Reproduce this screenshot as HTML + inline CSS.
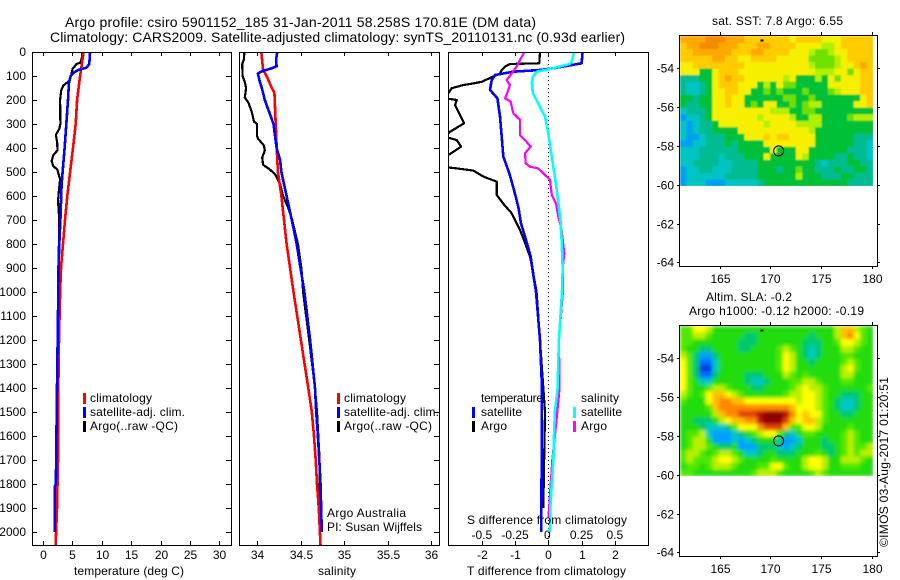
<!DOCTYPE html>
<html lang="en">
<head>
<meta charset="utf-8">
<title>Argo profile csiro 5901152_185</title>
<style>
html,body{margin:0;padding:0;background:#fff;}
svg{display:block;}
text{font-family:"Liberation Sans",sans-serif;font-size:12px;fill:#000;}
text.big{font-size:14px;}
.frame{fill:none;stroke:#000;stroke-width:1;shape-rendering:crispEdges;}
</style>
</head>
<body>
<svg id="chart" xmlns="http://www.w3.org/2000/svg" width="900" height="580" viewBox="0 0 900 580">
<defs>
<clipPath id="clip-p1"><rect x="32" y="52" width="200" height="493"/></clipPath>
<clipPath id="clip-p2"><rect x="239" y="52" width="200" height="493"/></clipPath>
<clipPath id="clip-p3"><rect x="448" y="52" width="200" height="493"/></clipPath>
<clipPath id="clip-m1"><rect x="680" y="36" width="193" height="150"/></clipPath>
<clipPath id="clip-m2"><rect x="680" y="326" width="193" height="150"/></clipPath>
<filter id="blur-sst" x="-5%" y="-5%" width="110%" height="110%"><feGaussianBlur stdDeviation="0.8" edgeMode="duplicate"/></filter>
<filter id="blur-sla" x="-5%" y="-5%" width="110%" height="110%"><feGaussianBlur stdDeviation="1.8" edgeMode="duplicate"/></filter>
</defs>

<text class="big" x="65" y="27" textLength="471" lengthAdjust="spacing">Argo profile: csiro 5901152_185 31-Jan-2011 58.258S 170.81E (DM data)</text>
<text class="big" x="50" y="42" textLength="575" lengthAdjust="spacing">Climatology: CARS2009. Satellite-adjusted climatology: synTS_20110131.nc (0.93d earlier)</text>

<text x="74" y="575" textLength="110" lengthAdjust="spacing">temperature (deg C)</text>
<text x="318" y="575" textLength="38" lengthAdjust="spacing">salinity</text>
<text x="467" y="575" textLength="159" lengthAdjust="spacing">T difference from climatology</text>

<text x="712" y="25" textLength="131" lengthAdjust="spacing">sat. SST: 7.8 Argo: 6.55</text>
<text x="706" y="301" textLength="86" lengthAdjust="spacing">Altim. SLA: -0.2</text>
<text x="689" y="315" textLength="175" lengthAdjust="spacing">Argo h1000: -0.12 h2000: -0.19</text>
<text transform="translate(888,547) rotate(-90)" textLength="170" lengthAdjust="spacing">©IMOS 03-Aug-2017 01:20:51</text>

<g id="p1"></g>
<g id="p2"></g>
<g id="p3"></g>
<g id="m1"></g>
<g id="m2"></g>

<g>
<rect x="83" y="393" width="3" height="11" fill="#f00"/>
<text x="90" y="402" textLength="62" lengthAdjust="spacing">climatology</text>
<rect x="83" y="407" width="3" height="11" fill="#00f"/>
<text x="90" y="416" textLength="95" lengthAdjust="spacing">satellite-adj. clim.</text>
<rect x="83" y="421" width="3" height="11" fill="#000"/>
<text x="90" y="430" textLength="88" lengthAdjust="spacing">Argo(..raw -QC)</text>
</g>
<g>
<rect x="337" y="393" width="3" height="11" fill="#f00"/>
<text x="344" y="402" textLength="62" lengthAdjust="spacing">climatology</text>
<rect x="337" y="407" width="3" height="11" fill="#00f"/>
<text x="344" y="416" textLength="95" lengthAdjust="spacing">satellite-adj. clim.</text>
<rect x="337" y="421" width="3" height="11" fill="#000"/>
<text x="344" y="430" textLength="88" lengthAdjust="spacing">Argo(..raw -QC)</text>
</g>
<text x="327" y="517" textLength="79" lengthAdjust="spacing">Argo Australia</text>
<text x="327" y="531" textLength="95" lengthAdjust="spacing">PI: Susan Wijffels</text>

<g>
<text x="481" y="402" textLength="62" lengthAdjust="spacing">temperature</text>
<rect x="472" y="407" width="3" height="11" fill="#00f"/>
<text x="481" y="416" textLength="41" lengthAdjust="spacing">satellite</text>
<rect x="472" y="421" width="3" height="11" fill="#000"/>
<text x="481" y="430" textLength="26" lengthAdjust="spacing">Argo</text>
<text x="581" y="402" textLength="38" lengthAdjust="spacing">salinity</text>
<rect x="573" y="407" width="3" height="11" fill="#0ff"/>
<text x="581" y="416" textLength="41" lengthAdjust="spacing">satellite</text>
<rect x="573" y="421" width="3" height="11" fill="#f0f"/>
<text x="581" y="430" textLength="26" lengthAdjust="spacing">Argo</text>
</g>
<text x="467" y="524" textLength="160" lengthAdjust="spacing">S difference from climatology</text>
</svg>

<script>
// ---------- axis ticks ----------
const depthTicks = [0,100,200,300,400,500,600,700,800,900,1000,1100,1200,1300,1400,1500,1600,1700,1800,1900,2000];
const tempTicks = [0,5,10,15,20,25,30];
const salTicks = [34,34.5,35,35.5,36];
const salTickLabels = ["34","34.5","35","35.5","36"];
const dtTicks = [-2,-1,0,1,2];
const dsTicks = [-0.5,-0.25,0,0.25,0.5];
const dsTickLabels = ["-0.5","-0.25","0","0.25","0.5"];
const lonTicks = [165,170,175,180];
const latTicks = [-54,-56,-58,-60,-62,-64];

// ---------- temperature panel ----------
const tempClimDepth = [0,100,200,300,400,500,600,700,800,900,1000,1200,1400,1700,1900,2054];
const tempClim = [6.9,6.3,5.8,5.55,5.1,4.6,4.13,3.74,3.4,3.06,2.9,2.72,2.6,2.55,2.38,2.15];
const tempSatDepth = [0,50,65,75,85,100,130,200,300,400,500,550,600,700,800,850,1000,1400,1500,1800,1810,2000];
const tempSat = [8,7.87,7.4,6,5.27,4.7,4.4,4.25,3.96,3.68,3.34,3.17,3.1,2.95,2.77,2.7,2.6,2.38,2.33,2.2,2,2];
const tempArgoDepth = [0,30,45,50,70,100,120,140,160,200,300,320,345,380,410,430,455,475,490,530,560,620,700,800,900,1000,1400,1970];
const tempArgo = [6.7,6.57,6.3,5.7,5.05,4.76,4.47,3.45,3.1,2.9,2.95,2.77,2.2,2.43,2.45,1.75,1.47,1.75,2.43,2.9,2.77,2.55,2.77,2.7,2.6,2.55,2.43,2.25];

// ---------- salinity panel ----------
const salClimDepth = [0,75,100,150,170,300,400,500,600,700,800,900,1000,1200,1400,1500,1600,1700,1800,1900,2054];
const salClim = [34.05,34.07,34.11,34.17,34.2,34.215,34.226,34.24,34.28,34.31,34.34,34.38,34.42,34.505,34.59,34.63,34.655,34.675,34.69,34.71,34.73];
const salSatDepth = [0,30,60,68,80,90,120,150,200,240,300,400,450,500,600,700,800,900,1000,1200,1400,1500,1600,1700,1800,2000];
const salSat = [34.233,34.22,34.225,34.17,34.055,34.01,34.03,34.055,34.09,34.13,34.19,34.225,34.265,34.28,34.34,34.4,34.456,34.5,34.545,34.61,34.667,34.68,34.7,34.716,34.73,34.745];
const salArgoDepth = [0,30,50,100,125,150,190,210,250,290,300,350,360,390,410,440,470,490,510,550,600,650,700,800,900,1000,1200,1400,1500,1700,1990];
const salArgo = [33.854,33.85,33.83,33.835,33.86,33.875,33.86,33.9,33.94,33.965,34,34,34.01,34.08,34.09,34.06,34.07,34.15,34.21,34.265,34.3,34.36,34.405,34.47,34.51,34.53,34.6,34.667,34.69,34.72,34.72];

// ---------- difference panel ----------
const dtSatDepth = [0,47,68,75,82,96,117,158,193,269,367,436,505,575,645,714,783,853,900,1000,1200,1400,2000];
const dtSat = [1.03,1,0.15,-0.25,-1.05,-1.6,-1.7,-1.75,-1.53,-1.45,-1.39,-1.35,-1.17,-1.03,-0.9,-0.82,-0.67,-0.53,-0.48,-0.37,-0.25,-0.19,-0.21];
const dtArgoDepth = [0,47,50,61,75,89,124,131,138,151,193,200,221,249,297,332,353,367,394,429,478,485,494,519,540,596,631,672,700,742,776,853,901,1000,1500,1900];
const dtArgo = [-0.25,-0.27,-1.15,-1.3,-1.4,-1.45,-2,-2.25,-2.56,-2.9,-3.1,-2.75,-2.8,-2.7,-2.53,-2.95,-3.1,-2.75,-2.62,-3,-3.2,-2.75,-2.25,-1.95,-1.55,-1.55,-1.36,-1.1,-1,-0.85,-0.75,-0.55,-0.48,-0.35,-0.1,-0.15];
const dsSatDepth = [0,40,50,68,82,103,130,172,214,269,339,408,505,575,645,714,783,901,1000,1100,1200,1400,1500,1600,1700,1800,1900,2000];
const dsSat = [0.193,0.176,0.16,0.036,-0.087,-0.115,-0.125,-0.115,-0.077,-0.025,0,0.018,0.045,0.063,0.08,0.093,0.1,0.108,0.103,0.092,0.08,0.07,0.05,0.043,0.038,0.026,0.015,0.013];
const dsArgoDepth = [0,33,61,89,117,138,165,193,207,256,283,346,360,374,394,422,464,478,485,506,533,596,631,686,742,839,901,1000,1200,1400,1500,1600,1700,1942];
const dsArgo = [-0.18,-0.213,-0.238,-0.275,-0.313,-0.288,-0.305,-0.325,-0.283,-0.263,-0.213,-0.213,-0.19,-0.165,-0.132,-0.175,-0.17,-0.138,-0.075,-0.037,0.013,0.026,0.058,0.075,0.1,0.12,0.108,0.11,0.08,0.085,0.068,0.05,0.03,0.001];

// ---------- map grids (colour-scale level per cell, north to south) ----------
const sstColors = ["#00a0f0","#00c4c4","#00bc90","#00c038","#70e000","#b0f000","#f6f000","#ffcc00","#ffa800","#f48c00"];
const sstRows = [
[8,8,8,8,9,9,9,8,8,8,7,7,7,7,7,7,7,6,7,7,7,7,6,6,6,7,7,7,7,7],
[7,8,8,9,9,9,8,8,8,7,7,7,8,8,7,7,7,7,6,6,6,6,5,5,6,7,7,7,7,7],
[7,7,8,8,8,8,8,8,7,7,7,8,8,7,7,7,7,6,6,6,5,4,4,5,6,6,7,7,7,7],
[7,7,7,7,7,8,8,7,7,6,6,7,7,7,7,6,6,6,6,6,4,4,4,4,5,6,7,7,7,7],
[6,6,7,7,7,7,7,7,7,7,6,6,6,6,6,6,6,6,6,6,5,4,4,4,5,6,6,7,8,7],
[6,6,6,3,3,6,7,7,7,6,6,6,6,6,6,6,6,6,6,6,6,5,5,5,6,6,4,6,7,7],
[2,2,2,3,3,6,7,8,7,7,6,6,6,6,6,6,5,6,3,3,3,5,3,6,4,6,6,6,7,7],
[2,1,1,2,3,6,7,7,7,6,6,6,3,5,3,6,4,4,3,3,3,3,3,6,6,6,6,6,7,7],
[2,1,1,2,3,6,6,7,7,6,6,3,3,4,3,4,3,3,3,4,3,3,3,4,5,6,6,6,7,7],
[3,3,2,3,3,6,6,7,6,6,3,3,3,3,3,3,4,4,3,3,4,3,3,3,3,3,3,3,6,7],
[3,2,2,3,3,6,6,7,6,6,3,4,3,6,6,3,3,4,3,4,5,5,3,3,3,3,3,6,6,7],
[1,2,2,2,3,6,6,6,6,6,6,6,6,6,5,5,5,3,3,4,4,3,3,3,3,3,3,3,3,3],
[0,1,1,2,3,6,6,6,6,6,6,6,5,6,6,6,6,5,3,3,5,5,3,3,3,3,4,5,5,5],
[1,0,1,2,2,3,6,6,6,6,6,6,6,5,6,6,6,6,5,5,5,5,3,3,3,3,3,3,3,3],
[1,0,1,2,2,3,3,3,3,6,6,6,6,6,6,6,6,6,6,6,5,3,3,3,3,3,3,3,3,3],
[1,0,0,1,2,2,2,3,3,3,6,6,6,7,6,7,7,6,6,6,6,3,3,3,3,3,3,2,2,2],
[0,0,1,1,2,2,2,3,2,3,3,3,3,6,6,6,6,6,6,6,6,3,3,3,3,3,3,2,2,1],
[1,1,1,2,2,2,2,2,2,3,3,3,3,3,6,3,3,3,6,6,3,3,3,3,3,3,2,2,2,1],
[1,1,1,2,2,2,1,2,2,2,3,3,3,6,3,3,3,3,6,5,3,3,3,3,2,2,3,2,2,1],
[1,1,2,2,2,2,1,1,2,2,2,2,3,3,3,3,3,3,3,3,3,2,1,2,2,2,3,3,2,2],
[0,1,1,2,2,1,1,1,2,2,2,2,3,3,3,2,3,3,4,3,3,2,2,2,3,2,2,3,3,2],
[0,1,1,1,1,1,1,2,2,2,2,2,3,3,3,3,3,3,5,3,3,3,2,2,2,3,3,2,2,2],
[0,1,1,1,0,0,0,1,1,1,1,1,2,3,3,3,3,3,3,3,3,3,3,3,3,3,2,2,2,2]
];
const slaColors = ["#0038e0","#0070ff","#00a0ff","#00c8c8","#00c870","#20dc10","#50e800","#b8f000","#ffff00","#ffc000","#ff8800","#e04000","#b81000","#900000"];
const slaRows = [
[6,6,8,8,7,5,5,5,5,5,5,5,5,5,5,5,5,5,5,5,5,5,5,5,7,9,9,7,6,5],
[6,6,7,7,6,5,5,5,5,5,4,4,5,5,5,5,5,5,5,5,4,5,5,5,7,9,10,8,6,5],
[6,6,5,5,5,5,5,5,5,4,4,4,5,5,5,5,5,5,5,4,4,4,5,5,6,8,8,7,6,5],
[6,5,5,4,4,5,5,5,5,4,4,5,5,5,5,6,7,6,5,4,3,4,5,5,5,7,7,6,5,5],
[7,6,4,2,2,4,5,5,5,5,5,5,5,5,5,6,8,7,5,4,3,4,5,5,5,6,6,5,5,5],
[8,6,4,1,1,3,5,5,5,5,5,5,5,5,5,6,8,7,5,5,4,5,5,5,5,6,7,6,5,5],
[8,6,4,0,0,3,5,5,5,5,5,5,5,5,5,6,8,7,5,5,5,5,5,5,5,7,8,6,5,5],
[8,6,4,1,1,4,5,5,5,5,4,4,4,5,5,5,7,6,5,6,5,5,5,5,5,7,7,5,5,5],
[8,6,5,3,3,5,5,5,5,5,4,3,3,4,5,5,5,6,6,7,7,6,5,5,5,6,6,5,5,5],
[8,6,5,5,6,7,7,6,5,5,5,4,4,5,5,5,5,6,7,8,7,7,6,5,5,5,5,5,5,6],
[7,6,5,6,8,9,9,8,7,6,5,5,5,5,5,5,6,7,7,8,8,7,6,5,5,4,4,4,5,5],
[6,5,5,5,8,9,10,10,9,9,8,8,8,8,8,8,8,8,7,8,8,7,6,5,4,3,3,4,5,5],
[5,5,5,5,6,9,10,10,10,10,10,10,10,10,10,10,10,9,8,8,8,7,6,5,4,3,3,4,5,5],
[5,5,5,5,5,7,9,10,10,11,11,11,12,13,13,13,12,10,8,9,8,8,6,5,5,4,4,5,5,5],
[5,5,4,4,4,5,7,8,9,9,10,10,12,13,13,13,11,9,8,9,9,7,6,5,5,5,5,5,5,5],
[5,5,5,4,3,3,3,4,6,8,8,8,10,11,11,11,9,6,6,8,8,7,5,5,5,5,6,5,5,5],
[5,6,6,7,3,2,2,2,3,4,5,6,7,8,8,6,4,3,5,6,6,5,5,5,5,6,7,6,5,5],
[5,6,7,7,5,2,2,2,3,2,3,4,5,5,5,4,2,2,3,5,5,5,4,5,5,6,7,6,5,5],
[5,6,7,7,6,5,4,4,5,2,2,2,4,4,4,3,2,3,4,5,5,5,4,4,5,6,7,6,6,7],
[6,7,7,6,5,6,7,7,6,5,3,3,4,5,5,4,4,4,5,5,5,6,5,4,5,6,7,6,7,7],
[6,7,6,6,6,7,8,8,7,6,5,5,5,5,6,5,5,5,5,7,8,8,7,5,5,7,7,7,6,5],
[5,6,6,5,6,7,7,7,6,5,5,5,6,6,8,8,6,5,5,7,8,8,7,5,5,6,6,6,5,5],
[6,6,5,5,5,5,5,5,5,5,5,6,7,7,7,6,5,5,5,5,6,7,6,5,5,5,5,5,5,5]
];
const argoLon = [170.81];
const argoLat = [-58.258];

// ---------- axis functions ----------
function yDepth(d){ return 52 + d*0.24; }
function xTemp(t){ return 43 + t*5.883; }
function xSal(s){ return 257 + (s-34)*87; }
function xDT(v){ return 548.3 + v*33.3; }
function xDS(v){ return 548.3 + v*133; }
function xLon(l){ return 770.4 + (l-170)*10.15; }
function yLat(l, top){ return top + 33.3 + (-54-l)*19.4; }

const NS = "http://www.w3.org/2000/svg";
function mk(tag, parent){
  const el = document.createElementNS(NS, tag);
  parent.appendChild(el);
  return el;
}
function tickLine(parent, x1, y1, x2, y2){
  const el = mk("line", parent);
  el.setAttribute("x1", x1);
  el.setAttribute("y1", y1);
  el.setAttribute("x2", x2);
  el.setAttribute("y2", y2);
  el.setAttribute("stroke", "#000");
  el.setAttribute("shape-rendering", "crispEdges");
  
  
  return el;
}
function tickText(parent, x, y, anchor, str){
  const el = mk("text", parent);
  el.setAttribute("x", x);
  el.setAttribute("y", y);
  el.setAttribute("text-anchor", anchor);
  el.textContent = str;
  
  
  return el;
}
function drawFrame(parent, x, y, w, h){
  const el = mk("rect", parent);
  el.setAttribute("x", x + 0.5);
  el.setAttribute("y", y + 0.5);
  el.setAttribute("width", w);
  el.setAttribute("height", h);
  el.setAttribute("class", "frame");
  
  
}
function drawLine(parent, depths, values, xf, color, width, clip, name){
  const pts = [];
  for (let i = 0; i < depths.length; i++) {
    pts.push(xf(values[i]).toFixed(1) + "," + yDepth(depths[i]).toFixed(1));
  }
  const el = mk("polyline", parent);
  el.setAttribute("points", pts.join(" "));
  el.setAttribute("fill", "none");
  el.setAttribute("stroke", color);
  el.setAttribute("stroke-width", width);
  el.setAttribute("stroke-linejoin", "round");
  el.setAttribute("shape-rendering", "crispEdges");
  el.setAttribute("clip-path", "url(#" + clip + ")");
  
  
}

// ---------- panels ----------
const p1 = document.getElementById("p1");
const p2 = document.getElementById("p2");
const p3 = document.getElementById("p3");

depthTicks.forEach(function(d){
  const y = Math.round(yDepth(d)) + 0.5;
  tickText(p1, 26, y + 3.5, "end", String(d));
  if (d > 0) {
    tickLine(p1, 32, y, 37, y);
    tickLine(p1, 231, y, 226, y);
    tickLine(p2, 439, y, 434, y);
  }
});
tempTicks.forEach(function(t){
  const x = Math.round(xTemp(t)) + 0.5;
  tickLine(p1, x, 52, x, 56);
  tickLine(p1, x, 545, x, 541);
  tickText(p1, x, 559, "middle", String(t));
});
salTicks.forEach(function(s, i){
  const x = Math.round(xSal(s)) + 0.5;
  tickLine(p2, x, 52, x, 56);
  tickLine(p2, x, 545, x, 541);
  tickText(p2, x, 559, "middle", salTickLabels[i]);
});
dtTicks.forEach(function(t){
  const x = Math.round(xDT(t)) + 0.5;
  tickLine(p3, x, 52, x, 56);
  tickLine(p3, x, 545, x, 541);
  tickText(p3, x, 559, "middle", String(t));
});
dsTicks.forEach(function(s, i){
  tickText(p3, xDS(s) - (i === 2 ? 1 : 0), 539, "middle", dsTickLabels[i]);
});

drawLine(p1, tempArgoDepth, tempArgo, xTemp, "#000", 2.2, "clip-p1", "temperature-argo-line");
drawLine(p1, tempClimDepth, tempClim, xTemp, "#f00", 2.6, "clip-p1", "temperature-climatology-line");
drawLine(p1, tempSatDepth, tempSat, xTemp, "#00f", 2.6, "clip-p1", "temperature-satellite-line");
drawFrame(p1, 32, 52, 199, 493);

drawLine(p2, salArgoDepth, salArgo, xSal, "#000", 2.2, "clip-p2", "salinity-argo-line");
drawLine(p2, salClimDepth, salClim, xSal, "#f00", 2.6, "clip-p2", "salinity-climatology-line");
drawLine(p2, salSatDepth, salSat, xSal, "#00f", 2.6, "clip-p2", "salinity-satellite-line");
drawFrame(p2, 239, 52, 200, 493);

const zeroLine = mk("line", p3);
zeroLine.setAttribute("x1", 548.5);
zeroLine.setAttribute("y1", 52);
zeroLine.setAttribute("x2", 548.5);
zeroLine.setAttribute("y2", 545);
zeroLine.setAttribute("stroke", "#000");
zeroLine.setAttribute("stroke-dasharray", "1 3");
zeroLine.setAttribute("shape-rendering", "crispEdges");


drawLine(p3, dtArgoDepth, dtArgo, xDT, "#000", 2.2, "clip-p3", "t-difference-argo-line");
drawLine(p3, dtSatDepth, dtSat, xDT, "#00f", 2.6, "clip-p3", "t-difference-satellite-line");
drawLine(p3, dsArgoDepth, dsArgo, xDS, "#f0f", 2.2, "clip-p3", "s-difference-argo-line");
drawLine(p3, dsSatDepth, dsSat, xDS, "#0ff", 2.6, "clip-p3", "s-difference-satellite-line");
drawFrame(p3, 448, 52, 200, 493);

// ---------- maps ----------
function drawMap(parent, rows, colors, top, clip, blur, cellName){
  const clipG = mk("g", parent);
  clipG.setAttribute("clip-path", "url(#" + clip + ")");
  
  
  const g = mk("g", clipG);
  g.setAttribute("filter", "url(#" + blur + ")");
  
  
  const x0 = 680, y0 = top + 1, w = 193, h = 150;
  const cw = w / rows[0].length, ch = h / rows.length;
  rows.forEach(function(row, r){
    row.forEach(function(v, c){
      const cell = mk("rect", g);
      cell.setAttribute("x", (x0 + c*cw).toFixed(2));
      cell.setAttribute("y", (y0 + r*ch).toFixed(2));
      cell.setAttribute("width", (cw + 0.5).toFixed(2));
      cell.setAttribute("height", (ch + 0.5).toFixed(2));
      cell.setAttribute("fill", colors[Math.max(0, Math.min(colors.length - 1, Math.round(v)))]);
      
      
    });
  });
  drawFrame(parent, 679, top, 198, 231);
  lonTicks.forEach(function(l){
    const x = Math.round(xLon(l)) + 0.5;
    tickLine(parent, x, top, x, top - 3);
    tickLine(parent, x, top + 231, x, top + 234);
    tickText(parent, x, top + 248, "middle", String(l));
  });
  latTicks.forEach(function(l){
    const y = Math.round(yLat(l, top)) + 0.5;
    tickLine(parent, 679, y, 677, y);
    tickLine(parent, 877, y, 880, y);
    tickText(parent, 674, y + 4, "end", String(l));
  });
  const dot = mk("rect", parent);
  dot.setAttribute("x", 760.5);
  dot.setAttribute("y", top + 4.5);
  dot.setAttribute("width", 3);
  dot.setAttribute("height", 2);
  dot.setAttribute("fill", "#000");
  
  
  const circle = mk("circle", parent);
  circle.setAttribute("cx", xLon(argoLon[0]));
  circle.setAttribute("cy", yLat(argoLat[0], top));
  circle.setAttribute("r", 5);
  circle.setAttribute("fill", "none");
  circle.setAttribute("stroke", "#000");
  
  
}
drawMap(document.getElementById("m1"), sstRows, sstColors, 35, "clip-m1", "blur-sst", "sst-cell");
drawMap(document.getElementById("m2"), slaRows, slaColors, 325, "clip-m2", "blur-sla", "sla-cell");
</script>
</body>
</html>
